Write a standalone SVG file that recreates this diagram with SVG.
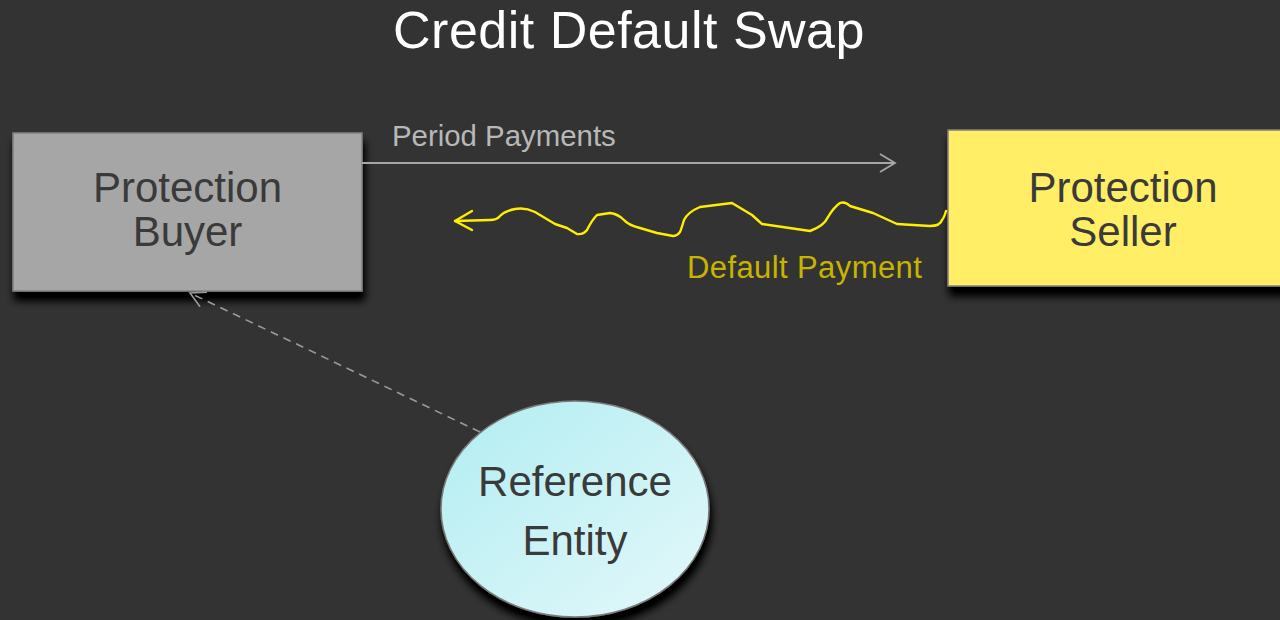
<svg xmlns="http://www.w3.org/2000/svg" width="1280" height="620" viewBox="0 0 1280 620">
  <defs>
    <filter id="shadow" x="-10%" y="-10%" width="130%" height="150%">
      <feGaussianBlur in="SourceAlpha" stdDeviation="4"/>
      <feOffset dx="2" dy="9" result="b"/>
      <feComponentTransfer><feFuncA type="linear" slope="1.2"/></feComponentTransfer>
      <feMerge><feMergeNode/><feMergeNode in="SourceGraphic"/></feMerge>
    </filter>
    <linearGradient id="cyan" x1="0" y1="0" x2="1" y2="1">
      <stop offset="0" stop-color="#b1edf2"/>
      <stop offset="1" stop-color="#e4f8fa"/>
    </linearGradient>
    <marker id="open" markerWidth="20" markerHeight="24" refX="17" refY="10" orient="auto" markerUnits="userSpaceOnUse">
      <path d="M2,1 L17,10 L2,19" fill="none" stroke="#a6a6a6" stroke-width="1.8"/>
    </marker>
    <marker id="openDash" markerWidth="20" markerHeight="24" refX="17" refY="10" orient="auto" markerUnits="userSpaceOnUse">
      <path d="M2,2 L17,10 L2,18" fill="none" stroke="#9a9a9a" stroke-width="1.6"/>
    </marker>
    <style>
      .lbl { font-family: "Liberation Sans", Arial, sans-serif; }
      .node { font-family: "Liberation Sans", Arial, sans-serif; font-size: 42px; fill: #3a3a3a; text-anchor: middle; }
    </style>
  </defs>
  <rect width="1280" height="620" fill="#333333"/>
  <text class="lbl" x="629" y="48" font-size="52" letter-spacing="0.5" fill="#ffffff" text-anchor="middle">Credit Default Swap</text>

  <g id="buyer">
    <rect x="13" y="133" width="349" height="158" fill="#a6a6a6" stroke="#808080" stroke-width="1.5" filter="url(#shadow)"/>
    <text class="node" x="187.5" y="202">Protection</text>
    <text class="node" x="187.5" y="246">Buyer</text>
  </g>

  <g id="seller">
    <rect x="948" y="130" width="350" height="156" fill="#ffee66" stroke="#808080" stroke-width="1.5" filter="url(#shadow)"/>
    <text class="node" x="1123" y="202">Protection</text>
    <text class="node" x="1123" y="246">Seller</text>
  </g>

  <g id="reference">
    <ellipse cx="575" cy="509" rx="134" ry="108" fill="url(#cyan)" stroke="#7a7a7a" stroke-width="1.5" filter="url(#shadow)"/>
    <text class="node" x="575" y="496">Reference</text>
    <text class="node" x="575" y="555">Entity</text>
  </g>

  <g id="connectors">
    <line x1="362" y1="163" x2="895" y2="163" stroke="#a6a6a6" stroke-width="1.8" marker-end="url(#open)"/>
    <text class="lbl" x="392" y="146" font-size="29.4" fill="#b8b8b8">Period Payments</text>
    <path d="M946,211 Q944,218 942,220 Q940,226 930,226 L897,224 L873,213 L850,206 Q845,201 840,203 Q834,207 828,217 Q824,226 810,231 L762,224 L752,215 L732,203 L700,207 Q688,212 684,220 Q681,230 680,232 Q677,236 673,236 L657,233 L640,228 Q628,225 624,220 Q618,214 610,213 L597,215 Q592,220 587,230 Q583,235 577,234 L567,228 L555,224 L535,212 Q525,207 515,209 Q505,211 500,216 Q497,220 490,220 L455,221" fill="none" stroke="#ffee00" stroke-width="2.4" stroke-linejoin="round" stroke-linecap="round"/>
    <path d="M472,211 L455,221 L472,230" fill="none" stroke="#ffee00" stroke-width="2.4" stroke-linecap="round" stroke-linejoin="round"/>
    <text class="lbl" x="687" y="278" font-size="31" letter-spacing="0.4" fill="#c8b400">Default Payment</text>
    <line x1="480" y1="432" x2="190" y2="293" stroke="#9a9a9a" stroke-width="1.6" stroke-dasharray="8,6" marker-end="url(#openDash)"/>
  </g>
</svg>
